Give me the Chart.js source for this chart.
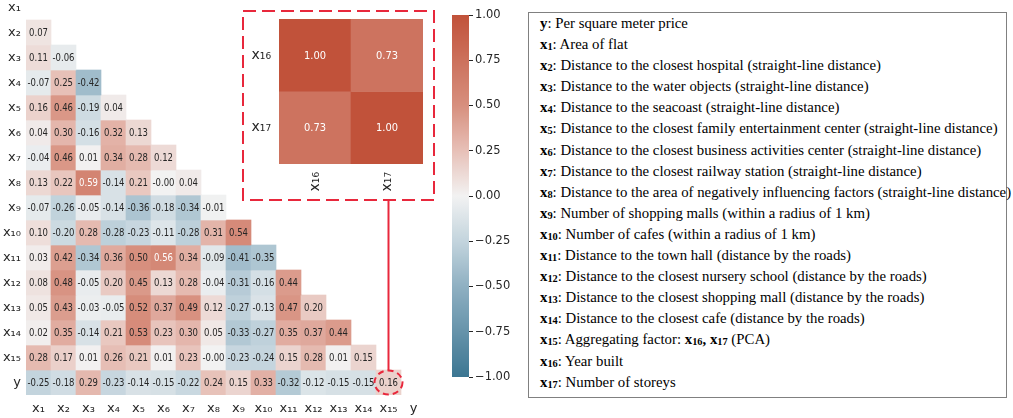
<!DOCTYPE html>
<html>
<head>
<meta charset="utf-8">
<script src="https://cdn.jsdelivr.net/npm/chart.js@4.4.1/dist/chart.umd.min.js"></script>
<style>
  body { margin: 0; background: #fff; width: 1013px; height: 418px; overflow: hidden; position: relative; }
  canvas { position: absolute; }
  #main { left: 0; top: 0; }
  #inset { left: 241px; top: 9px; }
  #cbar { left: 445px; top: 0; }
  #legend {
    position: absolute; left: 528px; top: 12px; width: 479px; height: 386px;
    box-sizing: border-box; border: 1px solid #808080;
    font-family: "Liberation Serif", "Times New Roman", serif; font-size: 14.8px; color: #000;
    padding: 0 0 0 11px; line-height: 21.1px; white-space: nowrap;
  }
  #legend b sub { font-size: 0.7em; vertical-align: -0.12em; line-height: 0; }
</style>
</head>
<body>
<canvas id="main" width="440" height="418"></canvas>
<canvas id="inset" width="195" height="193"></canvas>
<canvas id="cbar" width="80" height="418"></canvas>
<div id="legend"></div>
<script>
// axis labels
const rowLabels = ['x₁', 'x₂', 'x₃', 'x₄', 'x₅', 'x₆', 'x₇', 'x₈', 'x₉', 'x₁₀', 'x₁₁', 'x₁₂', 'x₁₃', 'x₁₄', 'x₁₅', 'y'];
const colLabels = rowLabels;

// lower triangle of the correlation matrix, one array per row
const rowX1 = [];
const rowX2 = [0.07];
const rowX3 = [0.11, -0.06];
const rowX4 = [-0.07, 0.25, -0.42];
const rowX5 = [0.16, 0.46, -0.19, 0.04];
const rowX6 = [0.04, 0.30, -0.16, 0.32, 0.13];
const rowX7 = [-0.04, 0.46, 0.01, 0.34, 0.28, 0.12];
const rowX8 = [0.13, 0.22, 0.59, -0.14, 0.21, -0.001, 0.04];
const rowX9 = [-0.07, -0.26, -0.05, -0.14, -0.36, -0.18, -0.34, -0.01];
const rowX10 = [0.10, -0.20, 0.28, -0.28, -0.23, -0.11, -0.28, 0.31, 0.54];
const rowX11 = [0.03, 0.42, -0.34, 0.36, 0.50, 0.56, 0.34, -0.09, -0.41, -0.35];
const rowX12 = [0.08, 0.48, -0.05, 0.20, 0.45, 0.13, 0.28, -0.04, -0.31, -0.16, 0.44];
const rowX13 = [0.05, 0.43, -0.03, -0.05, 0.52, 0.37, 0.49, 0.12, -0.27, -0.13, 0.47, 0.20];
const rowX14 = [0.02, 0.35, -0.14, 0.21, 0.53, 0.23, 0.30, 0.05, -0.33, -0.27, 0.35, 0.37, 0.44];
const rowX15 = [0.28, 0.17, 0.01, 0.26, 0.21, 0.01, 0.23, -0.001, -0.23, -0.24, 0.15, 0.28, 0.01, 0.15];
const rowY = [-0.25, -0.18, 0.29, -0.23, -0.14, -0.15, -0.22, 0.24, 0.15, 0.33, -0.32, -0.12, -0.15, -0.15, 0.16];
const corrRows = [rowX1, rowX2, rowX3, rowX4, rowX5, rowX6, rowX7, rowX8, rowX9, rowX10, rowX11, rowX12, rowX13, rowX14, rowX15, rowY];

// inset: x16 / x17
const insetLabels = ['x₁₆', 'x₁₇'];
const insetRow16 = [1.00, 0.73];
const insetRow17 = [0.73, 1.00];

// colour bar ticks
const cbarTicks = [-1, -0.75, -0.5, -0.25, 0, 0.25, 0.5, 0.75, 1];

// legend text
const legendKeys = ['y', 'x1', 'x2', 'x3', 'x4', 'x5', 'x6', 'x7', 'x8', 'x9', 'x10', 'x11', 'x12', 'x13', 'x14', 'x15', 'x16', 'x17'];
const legendTexts = [
  'Per square meter price',
  'Area of flat',
  'Distance to the closest hospital (straight-line distance)',
  'Distance to the water objects (straight-line distance)',
  'Distance to the seacoast (straight-line distance)',
  'Distance to the closest family entertainment center (straight-line distance)',
  'Distance to the closest business activities center (straight-line distance)',
  'Distance to the closest railway station (straight-line distance)',
  'Distance to the area of negatively influencing factors (straight-line distance)',
  'Number of shopping malls (within a radius of 1 km)',
  'Number of cafes (within a radius of 1 km)',
  'Distance to the town hall (distance by the roads)',
  'Distance to the closest nursery school (distance by the roads)',
  'Distance to the closest shopping mall (distance by the roads)',
  'Distance to the closest cafe (distance by the roads)',
  'Aggregating factor: <b>x<sub>16</sub>, x<sub>17</sub></b> (PCA)',
  'Year built',
  'Number of storeys'
];

const textDark = '#262626';
const calloutRed = '#e8283c';

// diverging colour map (blue -> light grey -> red)
const cmapStops = [
  [-1, [60, 118, 146]],
  [-0.5, [143, 176, 194]],
  [-0.25, [195, 212, 221]],
  [0, [242, 242, 242]],
  [0.25, [231, 192, 183]],
  [0.5, [215, 143, 126]],
  [1, [193, 82, 58]]
];
function cmap(v) {
  for (let i = 1; i < cmapStops.length; i++) {
    const [v0, c0] = cmapStops[i - 1];
    const [v1, c1] = cmapStops[i];
    if (v <= v1 || i === cmapStops.length - 1) {
      const t = Math.max(0, Math.min(1, (v - v0) / (v1 - v0)));
      const c = c0.map((a, k) => Math.round(a + (c1[k] - a) * t));
      return `rgb(${c[0]},${c[1]},${c[2]})`;
    }
  }
}

// writes the value in the middle of each cell (slightly condensed like the original)
const cellText = {
  id: 'cellText',
  afterDatasetsDraw(chart, args, opts) {
    const ctx = chart.ctx;
    chart.data.datasets.forEach((ds, i) => {
      chart.getDatasetMeta(i).data.forEach((bar, j) => {
        const v = ds.values[j];
        if (v === undefined) return;
        ctx.save();
        ctx.font = opts.font;
        ctx.textAlign = 'center';
        ctx.textBaseline = 'middle';
        ctx.fillStyle = Math.abs(v) >= 0.55 ? '#ffffff' : textDark;
        ctx.translate(bar.x, (bar.y + bar.base) / 2 + 0.5);
        ctx.scale(opts.squeeze, 1);
        ctx.fillText(v.toFixed(2), 0, 0);
        ctx.restore();
      });
    });
  }
};

function heatDatasets(rows, nCols) {
  return rows.map((vals, r) => ({
    data: Array.from({ length: nCols }, (_, c) => (c < vals.length ? [r - 0.5, r + 0.5] : null)),
    values: vals,
    backgroundColor: ctx => cmap(vals[ctx.dataIndex]),
    borderWidth: 0,
    barPercentage: 1,
    categoryPercentage: 1,
    grouped: false
  }));
}

// keep the cell grid where we put it: no extra room for overflowing labels
const noPadY = s => { s.paddingTop = 0; s.paddingBottom = 0; };
const noPadX = s => { s.paddingLeft = 0; s.paddingRight = 0; };

Chart.defaults.font.family = '"DejaVu Sans", sans-serif';
Chart.defaults.color = textDark;
Chart.defaults.animation = false;

// ---- main triangle heatmap ----
const callout = {
  id: 'callout',
  afterDraw(chart) {
    const { ctx, scales } = chart;
    const cx = scales.x.getPixelForValue(14);
    const cy = scales.y.getPixelForValue(15);
    ctx.save();
    ctx.strokeStyle = calloutRed;
    ctx.lineWidth = 2;
    ctx.beginPath();
    ctx.moveTo(cx, 200);
    ctx.lineTo(cx, cy - 12);
    ctx.stroke();
    ctx.setLineDash([6, 4]);
    ctx.beginPath();
    ctx.ellipse(cx, cy, 14, 12, 0, 0, Math.PI * 2);
    ctx.stroke();
    ctx.restore();
  }
};

new Chart(document.getElementById('main'), {
  type: 'bar',
  data: { labels: colLabels, datasets: heatDatasets(corrRows, colLabels.length) },
  options: {
    responsive: false,
    layout: { padding: { left: 0, right: 14, top: 0, bottom: 0 } },
    plugins: {
      legend: { display: false },
      tooltip: { enabled: false },
      cellText: { font: '10px "DejaVu Sans"', squeeze: 0.85 }
    },
    scales: {
      x: {
        type: 'category',
        grid: { display: false, drawTicks: false },
        border: { display: false },
        ticks: { font: { size: 13 }, padding: 6, maxRotation: 0, autoSkip: false },
        afterFit: s => { s.height = 23; noPadX(s); }
      },
      y: {
        type: 'linear',
        reverse: true,
        min: -0.3,
        max: 15.5,
        grid: { display: false, drawTicks: false },
        border: { display: false },
        afterBuildTicks: s => { s.ticks = rowLabels.map((_, i) => ({ value: i })); },
        ticks: { font: { size: 13 }, padding: 5, callback: v => rowLabels[v] },
        afterFit: s => { s.width = 26; noPadY(s); }
      }
    }
  },
  plugins: [cellText, callout]
});

// ---- inset heatmap ----
const dashedFrame = {
  id: 'dashedFrame',
  afterDraw(chart) {
    const ctx = chart.ctx;
    ctx.save();
    ctx.strokeStyle = calloutRed;
    ctx.lineWidth = 2;
    ctx.setLineDash([13, 6]);
    ctx.strokeRect(2, 2, chart.width - 4, chart.height - 4);
    ctx.restore();
  }
};

new Chart(document.getElementById('inset'), {
  type: 'bar',
  data: { labels: insetLabels, datasets: heatDatasets([insetRow16, insetRow17], insetLabels.length) },
  options: {
    responsive: false,
    layout: { padding: { left: 0, right: 13, top: 10, bottom: 0 } },
    plugins: {
      legend: { display: false },
      tooltip: { enabled: false },
      cellText: { font: '11px "DejaVu Sans"', squeeze: 0.9 }
    },
    scales: {
      x: {
        type: 'category',
        grid: { display: false, drawTicks: false },
        border: { display: false },
        ticks: { font: { size: 14 }, padding: 8, minRotation: 90, maxRotation: 90 },
        afterFit: s => { s.height = 38; noPadX(s); }
      },
      y: {
        type: 'linear',
        reverse: true,
        min: -0.5,
        max: 1.5,
        grid: { display: false, drawTicks: false },
        border: { display: false },
        afterBuildTicks: s => { s.ticks = insetLabels.map((_, i) => ({ value: i })); },
        ticks: { font: { size: 14 }, padding: 8, callback: v => insetLabels[v] },
        afterFit: s => { s.width = 38; noPadY(s); }
      }
    }
  },
  plugins: [cellText, dashedFrame]
});

// ---- colour bar ----
new Chart(document.getElementById('cbar'), {
  type: 'bar',
  data: {
    labels: [''],
    datasets: [{
      data: [[-1, 1]],
      backgroundColor: c => {
        const area = c.chart.chartArea;
        if (!area) return null;
        const g = c.chart.ctx.createLinearGradient(0, area.bottom, 0, area.top);
        for (let i = 0; i <= 40; i++) {
          g.addColorStop(i / 40, cmap(-1 + i / 20));
        }
        return g;
      },
      borderWidth: 0,
      barPercentage: 1,
      categoryPercentage: 1
    }]
  },
  options: {
    responsive: false,
    layout: { padding: { left: 7, right: 0, top: 15, bottom: 41 } },
    plugins: { legend: { display: false }, tooltip: { enabled: false } },
    scales: {
      x: { display: false },
      y: {
        position: 'right',
        min: -1,
        max: 1,
        grid: { drawOnChartArea: false, drawTicks: true, tickLength: 4, tickColor: textDark, tickWidth: 1 },
        border: { display: false },
        afterBuildTicks: s => { s.ticks = cbarTicks.map(v => ({ value: v })); },
        ticks: { font: { size: 11.5 }, padding: 2, callback: v => v.toFixed(2).replace('-', '−') },
        afterFit: s => { s.width = 56; noPadY(s); }
      }
    }
  }
});

// ---- variable legend ----
document.getElementById('legend').innerHTML = legendKeys.map((k, i) => {
  const m = k.match(/^([a-z])(\d*)$/);
  const key = m[2] ? `${m[1]}<sub>${m[2]}</sub>` : m[1];
  return `<div><b>${key}</b>: ${legendTexts[i]}</div>`;
}).join('');
</script>
</body>
</html>
